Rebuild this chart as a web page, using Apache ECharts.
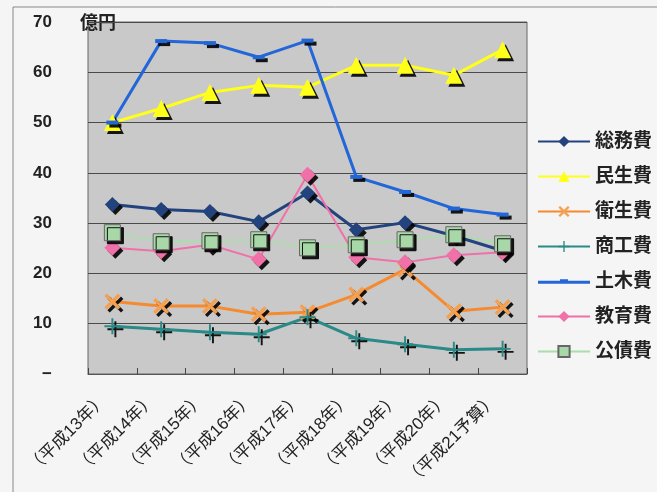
<!DOCTYPE html>
<html>
<head>
<meta charset="utf-8">
<script src="https://cdn.jsdelivr.net/npm/echarts@6/dist/echarts.min.js"></script>
<style>
html,body{margin:0;padding:0;background:#f5f5f5;}
#chart{width:657px;height:492px;}
</style>
</head>
<body>
<div id="chart"></div>
<script>
//年度
var years = ['（平成13年）','（平成14年）','（平成15年）','（平成16年）','（平成17年）','（平成18年）','（平成19年）','（平成20年）','（平成21予算）'];
//各費目（億円）
var soumu   = [33.7, 32.7, 32.3, 30.3, 36.0, 28.7, 30.1, 27.5, 24.5];
var minsei  = [50.0, 52.8, 56.0, 57.4, 57.0, 61.4, 61.4, 59.4, 64.5];
var eisei   = [14.4, 13.5, 13.5, 11.9, 12.3, 15.8, 20.8, 12.5, 13.3];
var shoko   = [9.5, 8.9, 8.3, 7.9, 11.3, 7.1, 5.9, 4.8, 5.0];
var doboku  = [50.0, 66.2, 65.8, 63.0, 66.3, 39.2, 36.2, 32.9, 31.7];
var kyoiku  = [25.1, 24.4, 25.7, 22.8, 39.6, 23.2, 22.2, 23.6, 24.2];
var kousai  = [28.1, 26.3, 26.5, 26.7, 25.1, 25.7, 26.7, 27.7, 25.9];

var myChart = echarts.init(document.getElementById('chart'));

var FONT = '"Liberation Sans","Noto Sans CJK JP",sans-serif';
var xPath = 'path://M1.5,0L5,3.5L8.5,0L10,1.5L6.5,5L10,8.5L8.5,10L5,6.5L1.5,10L0,8.5L3.5,5L0,1.5Z';
var plusPath = 'path://M4.4,0H5.6V4.4H10V5.6H5.6V10H4.4V5.6H0V4.4H4.4Z';
var dashPath = 'path://M0,0H12V4H0Z';
var dobokuIcon = 'path://M0,4H22V2.5H30V4H52V7H0Z';

function mk(name, data, color, width, symbol, size, markColor, border){
	return {
		name: name,
		type: 'line',
		data: data,
		symbol: symbol,
		symbolSize: size,
		lineStyle: {color: color, width: width},
		itemStyle: {
			color: markColor || color,
			borderColor: border || 'transparent',
			borderWidth: border ? 1 : 0,
			shadowColor: 'rgba(0,0,0,0.9)',
			shadowOffsetX: 3,
			shadowOffsetY: 3,
			shadowBlur: 0
		},
		emphasis: {disabled: true},
		animation: false
	};
}

var option = {
	backgroundColor: '#f5f5f5',
	textStyle: {fontFamily: FONT},
	grid: [{
		left: 88, top: 22, right: 130, bottom: 118,
		show: true,
		backgroundColor: '#c9c9c9',
		borderColor: '#666',
		borderWidth: 1
	}, {
		//目盛ラベル用（少し左にずらす）
		left: 80, right: 138, top: 22, bottom: 118
	}],
	legend: {
		orient: 'vertical',
		left: 532,
		top: 127,
		itemWidth: 52,
		itemHeight: 14,
		itemGap: 16,
		symbolKeepAspect: true,
		itemStyle: {shadowColor: 'transparent', shadowOffsetX: 0, shadowOffsetY: 0},
		textStyle: {fontSize: 19, fontWeight: 'bold', color: '#222', fontFamily: FONT},
		data: ['総務費','民生費','衛生費','商工費',{name: '土木費', icon: dobokuIcon},'教育費','公債費']
	},
	xAxis: [{
		type: 'category',
		data: years,
		boundaryGap: true,
		axisLine: {lineStyle: {color: '#555'}},
		axisTick: {show: true, inside: true, interval: 0, length: 6, lineStyle: {color: '#444'}},
		axisLabel: {show: false},
		splitLine: {show: false}
	}, {
		type: 'category',
		gridIndex: 1,
		data: years,
		boundaryGap: true,
		axisLine: {show: false},
		axisTick: {show: false},
		axisLabel: {rotate: 45, fontSize: 17, color: '#222', margin: 23, interval: 0},
		splitLine: {show: false}
	}],
	yAxis: [{
		type: 'value',
		min: 0, max: 70, interval: 10,
		axisLine: {show: false},
		axisTick: {show: false},
		axisLabel: {
			fontSize: 17, color: '#222', margin: 36, fontWeight: 'bold',
			formatter: function(v){ return v === 0 ? '−' : v; }
		},
		splitLine: {lineStyle: {color: '#4a4a4a', width: 1}}
	}, {
		type: 'value',
		gridIndex: 1,
		show: false
	}],
	graphic: [
		{type: 'rect', shape: {x: 13, y: 7, width: 700, height: 600}, style: {fill: 'none', stroke: '#888', lineWidth: 1}, z: -1},
		{type: 'text', left: 80, top: 13, style: {text: '億円', fill: '#222', font: 'bold 18px "Noto Sans CJK JP"'}}
	],
	series: [
		mk('総務費', soumu, '#23437e', 3, 'diamond', 15),
		mk('民生費', minsei, '#ffff1a', 3, 'triangle', 17),
		mk('衛生費', eisei, '#f58a30', 3, xPath, 16, '#f5a050'),
		mk('商工費', shoko, '#2a8a88', 3, plusPath, 16, '#2a8a88'),
		mk('土木費', doboku, '#2266d8', 3, dashPath, [12, 4], '#2266d8'),
		mk('教育費', kyoiku, '#f070a8', 2, 'diamond', 16, '#f070a8'),
		mk('公債費', kousai, '#a8e0a8', 1.5, 'rect', 16, '#a8d8a8', '#666')
	]
};
myChart.setOption(option);
</script>
</body>
</html>
